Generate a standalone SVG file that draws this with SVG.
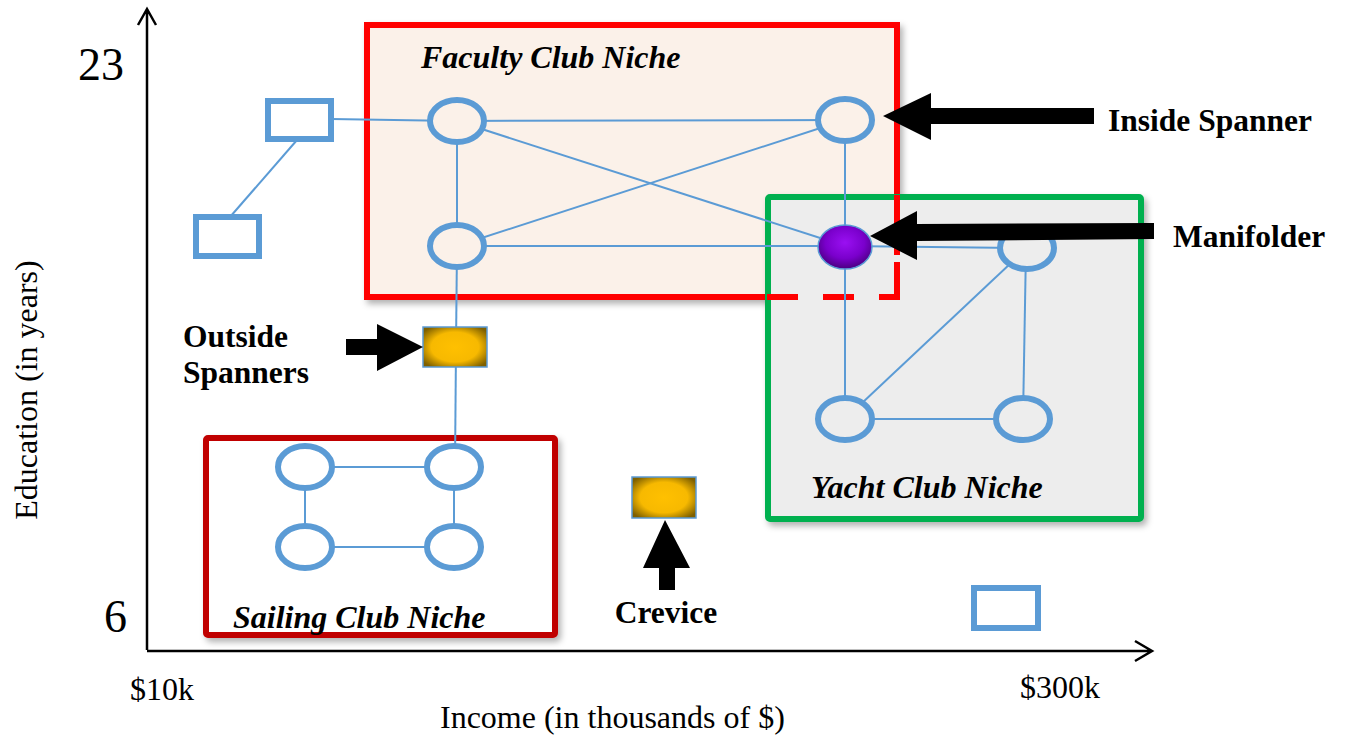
<svg xmlns="http://www.w3.org/2000/svg" width="1345" height="744" viewBox="0 0 1345 744">
<defs>
<filter id="sh" x="-10%" y="-10%" width="130%" height="130%">
<feDropShadow dx="3" dy="4" stdDeviation="3" flood-color="#000" flood-opacity="0.3"/>
</filter>
<radialGradient id="gold" cx="50%" cy="50%" r="62%">
<stop offset="0" stop-color="#FFC000"/>
<stop offset="0.6" stop-color="#F7B900"/>
<stop offset="1" stop-color="#7F6000"/>
</radialGradient>
<radialGradient id="purp" cx="50%" cy="40%" r="60%">
<stop offset="0" stop-color="#9A10F2"/>
<stop offset="0.6" stop-color="#7A00CC"/>
<stop offset="1" stop-color="#4A0080"/>
</radialGradient>
</defs>
<style>
.ax{stroke:#000;stroke-width:2.5;fill:none}
.e{stroke:#5B9BD5;stroke-width:2;fill:none}
.n{stroke:#5B9BD5;stroke-width:6}
.bx{stroke:#5B9BD5;stroke-width:6;fill:#fff}
.t{font-family:"Liberation Serif","Times New Roman",serif;fill:#000}
.b{font-weight:bold;font-size:31.5px}
.bi{font-weight:bold;font-style:italic;font-size:32px}
.r{font-size:32px}
.arr{fill:#000}
</style>
<rect width="1345" height="744" fill="#fff"/>

<g id="axes">
<path class="ax" d="M147,650 V9 M138,25 L147,9 L156,25"/>
<path class="ax" d="M147,651 H1152 M1135,641 L1152,651 L1135,661"/>
<text class="t" x="78" y="80" font-size="46">23</text>
<text class="t" x="104" y="632" font-size="46">6</text>
<text class="t r" x="130" y="700">$10k</text>
<text class="t r" x="1020" y="698">$300k</text>
<text class="t r" x="440" y="728">Income (in thousands of $)</text>
<text class="t r" transform="translate(37,390) rotate(-90)" text-anchor="middle">Education (in years)</text>
</g>

<g id="faculty-niche">
<rect x="367" y="25" width="530" height="272" fill="#FBF1E9" stroke="#FF0000" stroke-width="6" filter="url(#sh)"/>
<text class="t bi" x="421" y="68">Faculty Club Niche</text>
</g>

<g id="yacht-niche">
<rect x="768" y="197" width="373" height="322" rx="2" fill="#EDEDED" stroke="#00B050" stroke-width="6" filter="url(#sh)"/>
<path d="M897,195 V255 M767,297 H798 M823,297 H854 M879,297 H897 V262" fill="none" stroke="#FF0000" stroke-width="6"/>
<text class="t bi" x="811" y="498">Yacht Club Niche</text>
</g>

<g id="sailing-niche">
<rect x="206" y="438" width="349" height="197" rx="2" fill="#fff" stroke="#C00000" stroke-width="6" filter="url(#sh)"/>
<text class="t bi" x="233" y="628">Sailing Club Niche</text>
</g>

<g id="connectors">
<line class="e" x1="297" y1="140" x2="230" y2="217"/>
<line class="e" x1="331" y1="119" x2="457" y2="121"/>
<line class="e" x1="457" y1="121" x2="845" y2="120"/>
<line class="e" x1="457" y1="121" x2="457" y2="246"/>
<line class="e" x1="457" y1="121" x2="845" y2="246"/>
<line class="e" x1="457" y1="246" x2="845" y2="120"/>
<line class="e" x1="457" y1="246" x2="845" y2="246"/>
<line class="e" x1="845" y1="120" x2="845" y2="246"/>
<line class="e" x1="845" y1="246" x2="1027" y2="248"/>
<line class="e" x1="845" y1="246" x2="845" y2="419"/>
<line class="e" x1="1027" y1="248" x2="845" y2="419"/>
<line class="e" x1="1026" y1="248" x2="1023" y2="419"/>
<line class="e" x1="845" y1="419" x2="1023" y2="419"/>
<line class="e" x1="457" y1="246" x2="456" y2="347"/>
<line class="e" x1="456" y1="347" x2="455" y2="467"/>
<line class="e" x1="305" y1="467" x2="454" y2="467"/>
<line class="e" x1="305" y1="467" x2="305" y2="547"/>
<line class="e" x1="454" y1="467" x2="454" y2="547"/>
<line class="e" x1="305" y1="547" x2="454" y2="547"/>
</g>

<g id="rect-a"><rect class="bx" x="268" y="101" width="63" height="38"/></g>
<g id="rect-b"><rect class="bx" x="196" y="217" width="63" height="39"/></g>
<g id="rect-c"><rect class="bx" x="974" y="588" width="64" height="40"/></g>

<g id="f1"><ellipse class="n" cx="457" cy="121" rx="27" ry="21" fill="#FBF1E9"/></g>
<g id="f2"><ellipse class="n" cx="845" cy="120" rx="27" ry="21" fill="#FBF1E9"/></g>
<g id="f3"><ellipse class="n" cx="457" cy="246" rx="27" ry="21" fill="#FBF1E9"/></g>
<g id="manifolder"><ellipse cx="845" cy="247" rx="27" ry="22" fill="url(#purp)" stroke="#5B9BD5" stroke-width="1.5"/></g>
<g id="y1"><ellipse class="n" cx="1027" cy="248" rx="27" ry="21" fill="#EDEDED"/></g>
<g id="y2"><ellipse class="n" cx="845" cy="419" rx="27" ry="21" fill="#EDEDED"/></g>
<g id="y3"><ellipse class="n" cx="1023" cy="419" rx="27" ry="21" fill="#EDEDED"/></g>
<g id="s1"><ellipse class="n" cx="305" cy="467" rx="27" ry="21" fill="#fff"/></g>
<g id="s2"><ellipse class="n" cx="454" cy="467" rx="27" ry="21" fill="#fff"/></g>
<g id="s3"><ellipse class="n" cx="305" cy="547" rx="27" ry="21" fill="#fff"/></g>
<g id="s4"><ellipse class="n" cx="454" cy="547" rx="27" ry="21" fill="#fff"/></g>

<g id="outside-spanner"><rect x="423" y="327" width="64" height="40" fill="url(#gold)" stroke="#5B9BD5" stroke-width="1.5"/></g>
<g id="crevice"><rect x="632" y="477" width="64" height="41" fill="url(#gold)" stroke="#5B9BD5" stroke-width="1.5"/></g>

<g id="label-inside-spanner">
<polygon class="arr" points="883,116 931,93 931,108 1094,108 1094,124 931,124 931,140"/>
<text class="t b" x="1108" y="131">Inside Spanner</text>
</g>
<g id="label-manifolder">
<polygon class="arr" points="870,236 917,211 917,224 1154,223 1154,239 917,241 917,260"/>
<text class="t b" x="1173" y="247">Manifolder</text>
</g>
<g id="label-outside-spanners">
<polygon class="arr" points="346,339 377,339 377,324 423,347 377,371 377,355 346,355"/>
<text class="t b" x="183" y="347">Outside</text>
<text class="t b" x="183" y="383">Spanners</text>
</g>
<g id="label-crevice">
<polygon class="arr" points="665,520 690,568 675,568 675,590 659,590 659,568 643,568"/>
<text class="t b" x="666" y="623" text-anchor="middle">Crevice</text>
</g>
</svg>
